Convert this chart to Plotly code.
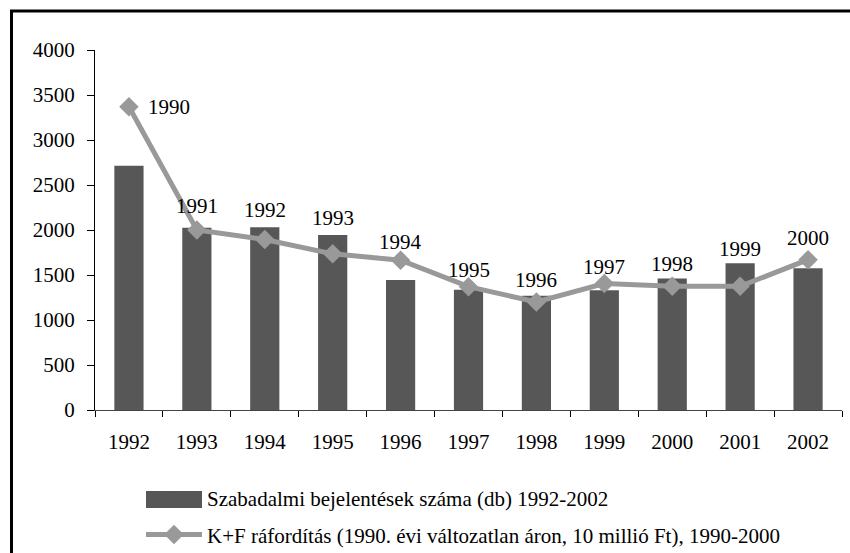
import plotly.graph_objects as go

categories = ["1992", "1993", "1994", "1995", "1996", "1997", "1998", "1999", "2000", "2001", "2002"]
patents = [2715, 2025, 2030, 1945, 1445, 1335, 1270, 1330, 1460, 1630, 1575]
rd_years = ["1990", "1991", "1992", "1993", "1994", "1995", "1996", "1997", "1998", "1999", "2000"]
rd_spending = [3370, 2000, 1895, 1735, 1665, 1370, 1200, 1405, 1375, 1375, 1670]

bar_name = "Szabadalmi bejelentések száma (db) 1992-2002"
line_name = "K+F ráfordítás (1990. évi változatlan áron, 10 millió Ft), 1990-2000"

# label placement (style): vertical offsets in px, horizontal offset for first label
label_yshift = [0, 24, 29, 36, 18, 17, 22, 17, 22, 37, 22]
label_xshift = [40, 0, 0, 0, 0, 0, 0, 0, 0, 0, 0]

FONT = "'Liberation Serif', 'Times New Roman', 'DejaVu Serif', serif"
FS = 21
BAR_COLOR = "#575757"
LINE_COLOR = "#999999"

fig = go.Figure()
fig.add_trace(go.Bar(
    x=categories, y=patents, name=bar_name,
    marker=dict(color=BAR_COLOR, line=dict(width=0)),
    legendgroup="a",
))
fig.add_trace(go.Scatter(
    x=categories, y=rd_spending, name=line_name, mode="lines+markers",
    line=dict(color=LINE_COLOR, width=5),
    marker=dict(symbol="diamond", size=15, color=LINE_COLOR),
    legendgroup="b",
))

annotations = []
for i, (v, t) in enumerate(zip(rd_spending, rd_years)):
    annotations.append(dict(
        x=i, y=v, text=t, showarrow=False,
        xshift=label_xshift[i], yshift=label_yshift[i],
        font=dict(family=FONT, size=FS, color="black"),
    ))

def px_x(p):
    return (p - 95) / 747

def px_y(p):
    return (410 - p) / 360

fig.update_layout(
    width=850, height=553,
    margin=dict(l=95, r=8, t=50, b=143, autoexpand=False),
    paper_bgcolor="white", plot_bgcolor="white",
    font=dict(family=FONT, size=FS, color="black"),
    bargap=0.57,
    showlegend=True,
    legend=dict(
        x=px_x(141), xanchor="left",
        y=px_y(478), yanchor="top",
        font=dict(family=FONT, size=FS, color="black"),
        tracegroupgap=6, bgcolor="rgba(0,0,0,0)",
        itemwidth=56,
    ),
    annotations=annotations,
    shapes=[
        dict(
            type="rect", xref="paper", yref="paper",
            x0=px_x(11.5), x1=1.05,
            y0=-0.6, y1=px_y(11),
            line=dict(color="black", width=3), layer="below",
        ),
        dict(
            type="rect", xref="paper", yref="paper",
            x0=px_x(146), x1=px_x(202),
            y0=px_y(508), y1=px_y(491),
            fillcolor=BAR_COLOR, line=dict(width=0), layer="above",
        ),
    ],
    xaxis=dict(
        type="category", showgrid=False,
        range=[-0.5, len(categories) - 0.5],
        showline=True, linecolor="#444444", linewidth=1,
        ticks="outside", ticklen=6, tickcolor="black", tickson="boundaries",
        ticklabelstandoff=13, tickangle=0,
        tickfont=dict(family=FONT, size=FS, color="black"),
        fixedrange=True,
    ),
    yaxis=dict(
        range=[0, 4000], dtick=500, showgrid=False, zeroline=False,
        showline=True, linecolor="black", linewidth=1,
        ticks="outside", ticklen=7, tickcolor="black",
        ticklabelstandoff=8,
        tickfont=dict(family=FONT, size=FS, color="black"),
        fixedrange=True,
    ),
)

fig.write_html(
    "out.html",
    config={"displayModeBar": False},
    post_script="document.body.style.margin='0px';document.body.style.overflow='hidden';",
)
